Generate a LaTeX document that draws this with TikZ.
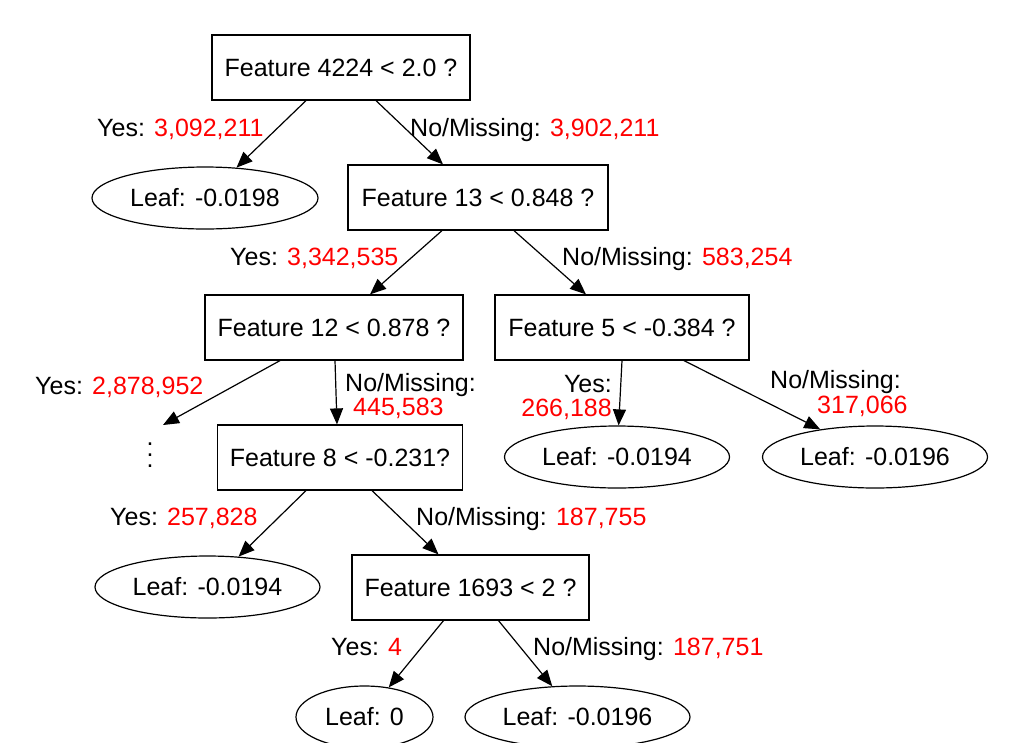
\documentclass[tikz,border=0pt]{standalone}
\usepackage{fontspec}
\setmainfont{Liberation Sans}
\usetikzlibrary{arrows.meta,shapes.geometric}
\definecolor{cnt}{RGB}{255,0,0}
\begin{document}
\begin{tikzpicture}[x=1pt,y=-1pt,
  every node/.style={font=\fontsize{25}{28}\selectfont},
  split/.style={draw,rectangle,line width=1.2pt,minimum height=65pt,inner sep=0pt},
  leaf/.style={draw,ellipse,line width=1.2pt,minimum height=62pt,inner sep=0pt},
  lbl/.style={inner sep=0pt},
  edge/.style={line width=1.2pt,-{Triangle[length=16pt,width=13pt]}}]
\useasboundingbox (0,0) rectangle (1017,742);
\clip (0,0) rectangle (1017,742);

% split nodes
\node[split,minimum width=258pt] (b1) at (341,67.5)  {Feature 4224 < 2.0 ?};
\node[split,minimum width=260pt] (b2) at (478,197.5) {Feature 13 < 0.848 ?};
\node[split,minimum width=258pt] (b3) at (334,327.5) {Feature 12 < 0.878 ?};
\node[split,minimum width=254pt] (b4) at (622,327.5) {Feature 5 < -0.384 ?};
\node[split,minimum width=245pt] (b5) at (340,457.5) {Feature 8 < -0.231?};
\node[split,minimum width=237pt] (b6) at (470.5,587.5) {Feature 1693 < 2 ?};

% leaves
\node[leaf,minimum width=226pt] (l1) at (205,198)   {Leaf: -0.0198};
\node[leaf,minimum width=225pt] (l2) at (617,457)   {Leaf: -0.0194};
\node[leaf,minimum width=225pt] (l3) at (875,457)   {Leaf: -0.0196};
\node[leaf,minimum width=225pt] (l4) at (207.5,587) {Leaf: -0.0194};
\node[leaf,minimum width=137pt] (l5) at (364.5,717) {Leaf: 0};
\node[leaf,minimum width=225pt] (l6) at (577.5,717) {Leaf: -0.0196};

% elided subtree: three stacked dots
\node[lbl,align=center,font=\fontsize{25}{11}\selectfont] (dots) at (150,455) {.\\.\\.};

% edges
\draw[edge] ([xshift=-35pt]b1.south) -- (l1);
\draw[edge] ([xshift=35pt]b1.south) -- ([xshift=-35pt]b2.north);
\draw[edge] ([xshift=-36pt]b2.south) -- ([xshift=36pt]b3.north);
\draw[edge] ([xshift=36pt]b2.south) -- ([xshift=-36pt]b4.north);
\draw[edge] ([xshift=-54pt]b3.south) -- ([shift={(13,-30)}]dots.center);
\draw[edge] ([xshift=1pt]b3.south) -- ([xshift=-3pt]b5.north);
\draw[edge] (b4.south) -- (l2);
\draw[edge] ([xshift=62pt]b4.south) -- (l3);
\draw[edge] ([xshift=-34pt]b5.south) -- (l4);
\draw[edge] ([xshift=32pt]b5.south) -- ([xshift=-32pt]b6.north);
\draw[edge] ([xshift=-27pt]b6.south) -- (l5);
\draw[edge] ([xshift=28pt]b6.south) -- (l6);

% edge labels
\node[lbl,anchor=base west] (y1) at (97,136)  {Yes: \textcolor{cnt}{3,092,211}};
\node[lbl,anchor=base west] (n1) at (410,136) {No/Missing: \textcolor{cnt}{3,902,211}};
\node[lbl,anchor=base west] (y2) at (230,265) {Yes: \textcolor{cnt}{3,342,535}};
\node[lbl,anchor=base west] (n2) at (562,265) {No/Missing: \textcolor{cnt}{583,254}};
\node[lbl,anchor=base west] (y3) at (35,394)  {Yes: \textcolor{cnt}{2,878,952}};
\node[lbl,anchor=base west] (n3a) at (345,391) {No/Missing:};
\node[lbl,anchor=base west,text=cnt] (n3b) at (353,415) {445,583};
\node[lbl,anchor=base east] (y4a) at (612,392) {Yes:};
\node[lbl,anchor=base east,text=cnt] (y4b) at (612,416) {266,188};
\node[lbl,anchor=base west] (n4a) at (770,388) {No/Missing:};
\node[lbl,anchor=base west,text=cnt] (n4b) at (817,413) {317,066};
\node[lbl,anchor=base west] (y5) at (110,525) {Yes: \textcolor{cnt}{257,828}};
\node[lbl,anchor=base west] (n5) at (416,525) {No/Missing: \textcolor{cnt}{187,755}};
\node[lbl,anchor=base west] (y6) at (331,655) {Yes: \textcolor{cnt}{4}};
\node[lbl,anchor=base west] (n6) at (533,655) {No/Missing: \textcolor{cnt}{187,751}};
\end{tikzpicture}
\end{document}
